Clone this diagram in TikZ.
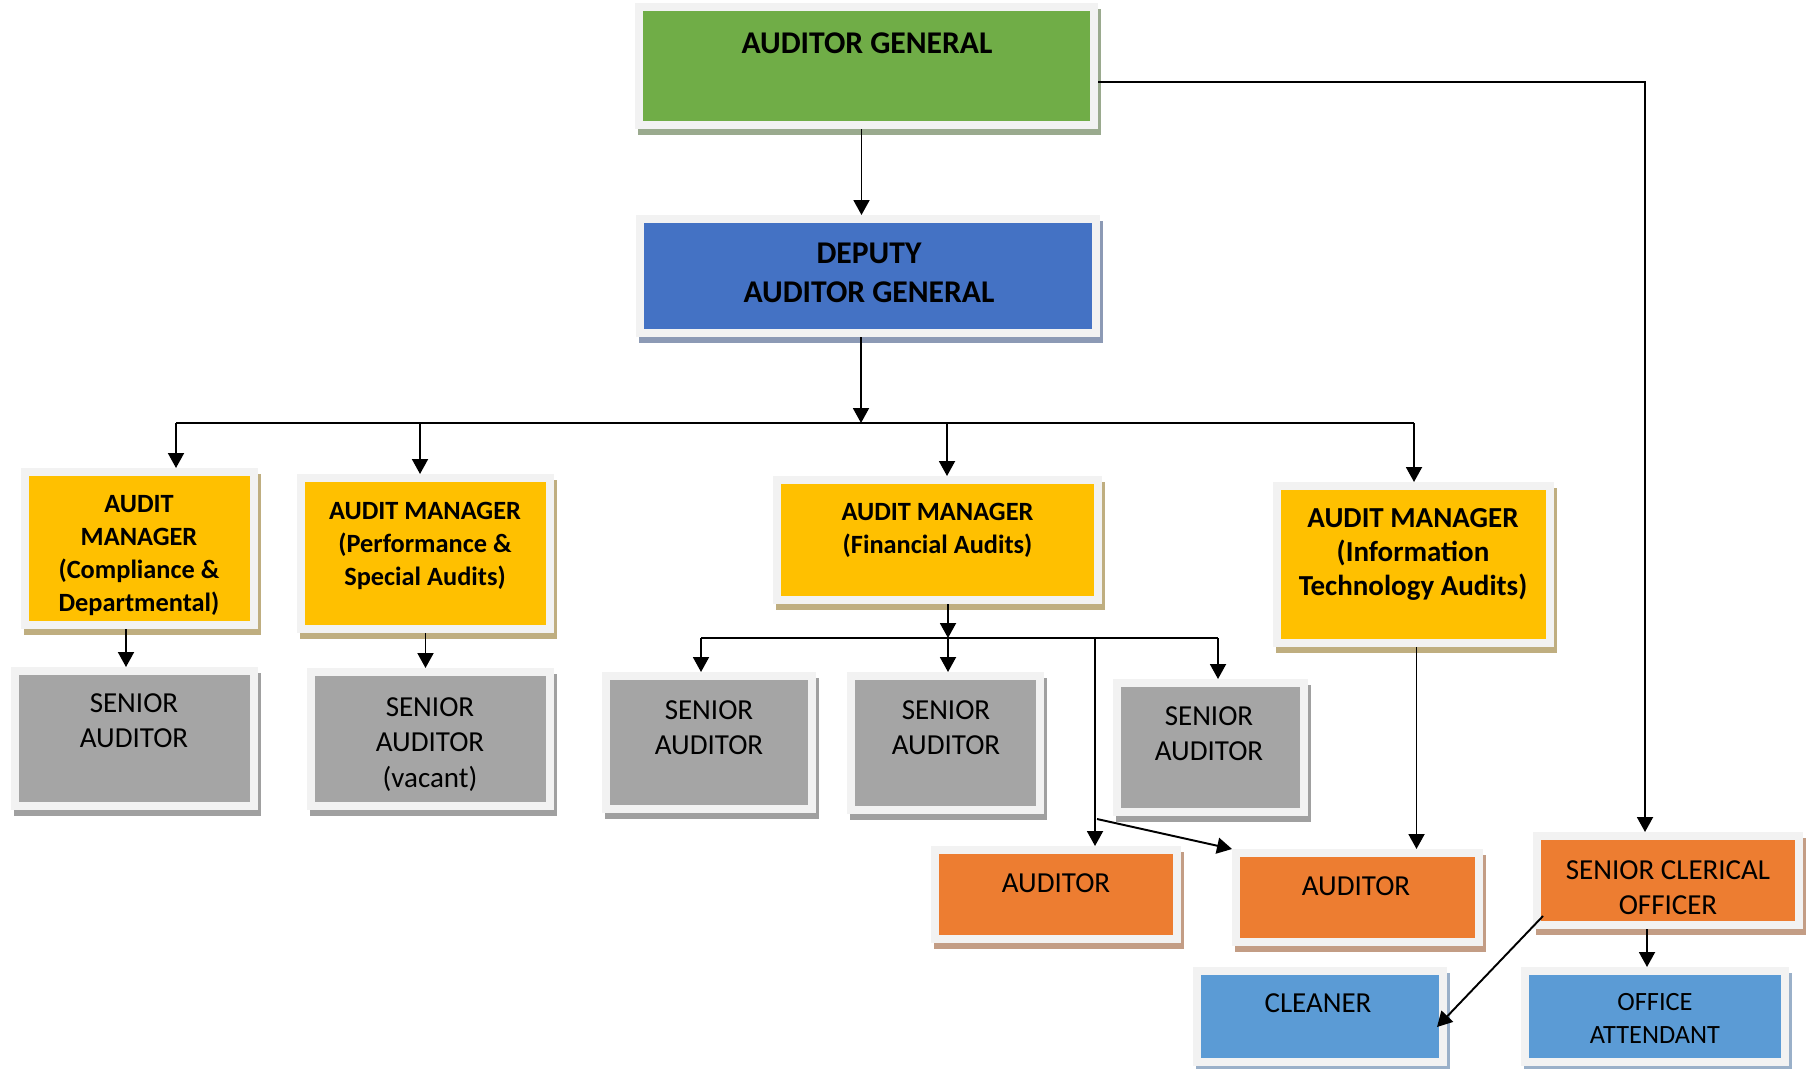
\documentclass[tikz,border=0pt]{standalone}
\usepackage{fontspec}
\setmainfont{Carlito}
\usetikzlibrary{arrows.meta,shadows}

\definecolor{frameGray}{HTML}{F2F2F2}
\definecolor{agGreen}{HTML}{70AD47}
\definecolor{agGreenSh}{HTML}{9AAA8E}
\definecolor{dagBlue}{HTML}{4472C4}
\definecolor{dagBlueSh}{HTML}{8C9AB5}
\definecolor{amGold}{HTML}{FFC000}
\definecolor{amGoldSh}{HTML}{BFAE80}
\definecolor{saGray}{HTML}{A5A5A5}
\definecolor{saGraySh}{HTML}{A0A0A0}
\definecolor{audOrange}{HTML}{ED7D31}
\definecolor{audOrangeSh}{HTML}{C39D85}
\definecolor{supBlue}{HTML}{5B9BD5}
\definecolor{supBlueSh}{HTML}{9AB0C9}

\tikzset{
	box/.style 2 args={rectangle, fill=#1, draw=frameGray, line width=0.16cm,
		drop shadow={shadow xshift=0.06cm, shadow yshift=-0.12cm, opacity=1,
			fill=#2, draw=#2, line width=0.16cm}},
	txt/.style={anchor=north, inner sep=0pt, align=center},
	bigbold/.style={txt, font=\fontsize{18}{22.2}\selectfont\bfseries},
	midbold/.style={txt, font=\fontsize{15}{18.8}\selectfont\bfseries},
	itbold/.style={txt, font=\fontsize{16.5}{19.3}\selectfont\bfseries},
	plain/.style={txt, font=\fontsize{16.5}{20.2}\selectfont},
	small/.style={txt, font=\fontsize{15}{18.8}\selectfont},
	link/.style={->, line width=1.1pt}
}

\begin{document}
\begin{tikzpicture}[>={Triangle[length=0.3cm,width=0.32cm]}]
	\useasboundingbox (0,0) rectangle (36.18,-21.36);

	\node[box={agGreen}{agGreenSh}, minimum width=9.10cm, minimum height=2.36cm] (ag) at (17.33,-1.32) {};
	\node[box={dagBlue}{dagBlueSh}, minimum width=9.12cm, minimum height=2.28cm] (dag) at (17.36,-5.52) {};
	\node[box={amGold}{amGoldSh}, minimum width=4.58cm, minimum height=3.06cm] (am1) at (2.79,-10.97) {};
	\node[box={amGold}{amGoldSh}, minimum width=4.98cm, minimum height=3.02cm] (am2) at (8.51,-11.07) {};
	\node[box={amGold}{amGoldSh}, minimum width=6.42cm, minimum height=2.40cm] (am3) at (18.75,-10.80) {};
	\node[box={amGold}{amGoldSh}, minimum width=5.46cm, minimum height=3.14cm] (am4) at (28.27,-11.29) {};
	\node[box={saGray}{saGraySh}, minimum width=4.78cm, minimum height=2.70cm] (sa1) at (2.69,-14.77) {};
	\node[box={saGray}{saGraySh}, minimum width=4.78cm, minimum height=2.68cm] (sa2) at (8.61,-14.78) {};
	\node[box={saGray}{saGraySh}, minimum width=4.12cm, minimum height=2.66cm] (sa3) at (14.18,-14.85) {};
	\node[box={saGray}{saGraySh}, minimum width=3.78cm, minimum height=2.68cm] (sa4) at (18.91,-14.86) {};
	\node[box={saGray}{saGraySh}, minimum width=3.74cm, minimum height=2.58cm] (sa5) at (24.21,-14.95) {};
	\node[box={audOrange}{audOrangeSh}, minimum width=4.84cm, minimum height=1.78cm] (aud1) at (21.12,-17.89) {};
	\node[box={audOrange}{audOrangeSh}, minimum width=4.86cm, minimum height=1.78cm] (aud2) at (27.15,-17.95) {};
	\node[box={audOrange}{audOrangeSh}, minimum width=5.24cm, minimum height=1.78cm] (sco) at (33.36,-17.61) {};
	\node[box={supBlue}{supBlueSh}, minimum width=4.92cm, minimum height=1.82cm] (cln) at (26.40,-20.33) {};
	\node[box={supBlue}{supBlueSh}, minimum width=5.20cm, minimum height=1.82cm] (oa) at (33.10,-20.33) {};

	\node[bigbold] (agt) at (17.34,-0.64) {AUDITOR GENERAL};
	\node[bigbold] (dagt) at (17.38,-4.86) {DEPUTY\\AUDITOR GENERAL};
	\node[midbold] (am1t) at (2.78,-9.90) {AUDIT\\MANAGER\\(Compliance \&\\Departmental)};
	\node[midbold] (am2t) at (8.50,-10.04) {AUDIT MANAGER\\(Performance \&\\Special Audits)};
	\node[midbold] (am3t) at (18.75,-10.06) {AUDIT MANAGER\\(Financial Audits)};
	\node[itbold] (am4t) at (28.26,-10.16) {AUDIT MANAGER\\(Information\\Technology Audits)};
	\node[plain] (sa1t) at (2.68,-13.86) {SENIOR\\AUDITOR};
	\node[plain] (sa2t) at (8.60,-13.94) {SENIOR\\AUDITOR\\(vacant)};
	\node[plain] (sa3t) at (14.18,-14.00) {SENIOR\\AUDITOR};
	\node[plain] (sa4t) at (18.92,-14.00) {SENIOR\\AUDITOR};
	\node[plain] (sa5t) at (24.18,-14.12) {SENIOR\\AUDITOR};
	\node[plain] (aud1t) at (21.12,-17.46) {AUDITOR};
	\node[plain] (aud2t) at (27.12,-17.52) {AUDITOR};
	\node[plain] (scot) at (33.36,-17.20) {SENIOR CLERICAL\\OFFICER};
	\node[plain] (clnt) at (26.36,-19.86) {CLEANER};
	\node[small] (oat) at (33.10,-19.86) {OFFICE\\ATTENDANT};

	\coordinate (bus1) at (17.22,-8.46);
	\coordinate (d1) at (3.52,-8.46);
	\coordinate (d2) at (8.40,-8.46);
	\coordinate (d3) at (18.94,-8.46);
	\coordinate (d4) at (28.28,-8.46);
	\coordinate (b2l) at (14.02,-12.76);
	\coordinate (b2m) at (18.96,-12.76);
	\coordinate (b2a) at (21.90,-12.76);
	\coordinate (b2r) at (24.36,-12.76);
	\coordinate (br) at (21.94,-16.38);
	\coordinate (agr) at (32.90,-1.64);

	\draw[link] ([xshift=-0.1cm]ag.south) -- ([xshift=-0.1cm]ag.south |- dag.north);
	\draw[link] (dag.south -| bus1) -- (bus1);
	\draw[line width=1.1pt] (d1) -- (d4);
	\draw[link] (d1) -- (d1 |- am1.north);
	\draw[link] (d2) -- (d2 |- am2.north);
	\draw[link] (d3) -- (d3 |- am3.north);
	\draw[link] (d4) -- (d4 |- am4.north);
	\draw[link] ([xshift=-0.27cm]am1.south) -- ([xshift=-0.27cm]am1.south |- sa1.north);
	\draw[link] (am2.south) -- (am2.south |- sa2.north);
	\draw[link] (am3.south -| b2m) -- (b2m);
	\draw[line width=1.1pt] (b2l) -- (b2r);
	\draw[link] (b2l) -- (b2l |- sa3.north);
	\draw[link] (b2m) -- (b2m |- sa4.north);
	\draw[link] (b2r) -- (b2r |- sa5.north);
	\draw[link] (b2a) -- (b2a |- aud1.north);
	\draw[link] (br) -- (aud2.north west);
	\draw[link] ([xshift=0.06cm]am4.south) -- ([xshift=0.06cm]am4.south |- aud2.north);
	\draw[link] (ag.east |- agr) -- (agr) -- (agr |- sco.north);
	\draw[link] ([xshift=-0.42cm]sco.south) -- ([xshift=-0.42cm]sco.south |- oa.north);
	\draw[link] ([shift={(0.2,0.26)}]sco.south west) -- ([shift={(-0.2,-0.21)}]cln.east);
\end{tikzpicture}
\end{document}
